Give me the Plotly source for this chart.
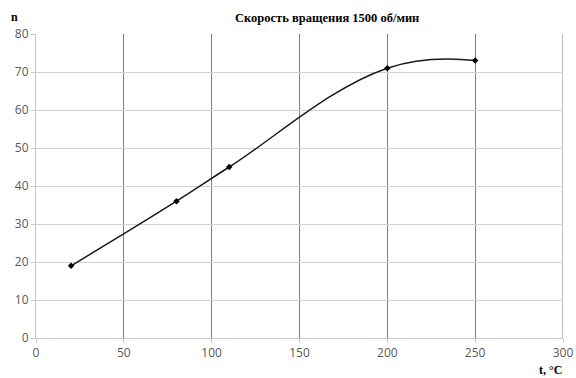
import plotly.graph_objects as go

# Измерения: температура, °C и частота n
temperature = [20, 80, 110, 200, 250]
n_values = [19, 36, 45, 71, 73]

x_ticks = [0, 50, 100, 150, 200, 250, 300]
y_ticks = [0, 10, 20, 30, 40, 50, 60, 70, 80]

fig = go.Figure()
fig.add_trace(go.Scatter(
    x=temperature, y=n_values,
    mode="lines+markers",
    line=dict(shape="spline", smoothing=1.2, color="#1a1a1a", width=1.5),
    marker=dict(symbol="diamond", size=5, color="#000000"),
    showlegend=False,
))

tick_font = dict(family="Open Sans, Liberation Sans, sans-serif", size=12, color="#595959")

fig.update_layout(
    width=576, height=378,
    margin=dict(l=36, r=13, t=34, b=40, autoexpand=False),
    paper_bgcolor="white", plot_bgcolor="white",
    xaxis=dict(
        range=[0, 300], tickvals=x_ticks, ticktext=[str(v) for v in x_ticks],
        showgrid=True, gridcolor="#7f7f7f", gridwidth=1,
        zeroline=False, showline=True, linecolor="#c8c8c8", linewidth=1,
        ticks="outside", ticklen=4, tickcolor="#c8c8c8",
        tickfont=tick_font, automargin=False,
    ),
    yaxis=dict(
        range=[0, 80], tickvals=y_ticks, ticktext=[str(v) for v in y_ticks],
        showgrid=True, gridcolor="#d2d2d2", gridwidth=1,
        zeroline=False, showline=True, linecolor="#c8c8c8", linewidth=1,
        ticks="outside", ticklen=4, tickcolor="#c8c8c8",
        tickfont=tick_font, automargin=False,
    ),
    annotations=[
        dict(text="<b>Скорость вращения 1500 об/мин</b>", xref="paper", yref="paper",
             x=0.5, y=1, xshift=27, yshift=7, yanchor="bottom", showarrow=False,
             font=dict(family="Liberation Serif, serif", size=12.5, color="#000000")),
        dict(text="<b>n</b>", xref="paper", yref="paper", x=0, y=1,
             xshift=-22, yshift=8, xanchor="center", yanchor="bottom", showarrow=False,
             font=dict(family="Liberation Serif, serif", size=12, color="#000000")),
        dict(text="<b>t, °C</b>", xref="paper", yref="paper", x=1, y=0,
             xshift=1, yshift=-23, xanchor="right", yanchor="top", showarrow=False,
             font=dict(family="Liberation Serif, serif", size=12, color="#000000")),
    ],
)

# Правая граница области построения
fig.add_shape(type="line", xref="x", yref="paper", x0=300, x1=300, y0=0, y1=1,
              line=dict(color="#7f7f7f", width=1), layer="below")

fig.write_html("out.html")
